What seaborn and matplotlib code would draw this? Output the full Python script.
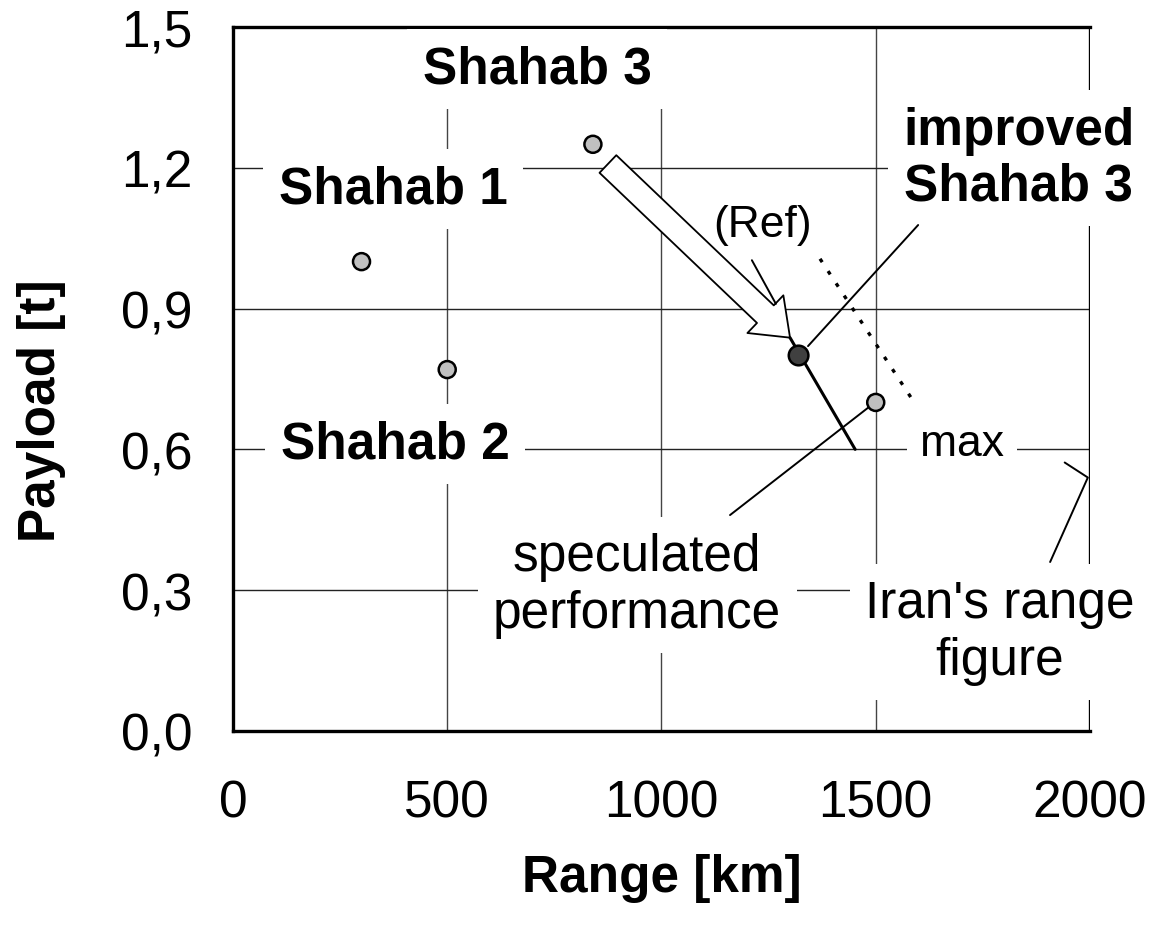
import matplotlib
matplotlib.use("Agg")
import matplotlib.pyplot as plt
import numpy as np
import pandas as pd
import seaborn as sb
from matplotlib.patches import FancyArrowPatch
from matplotlib.ticker import FuncFormatter

# missile data
names = ["Shahab 1", "Shahab 2", "Shahab 3", "improved Shahab 3", "speculated"]
ranges_km = [300, 500, 840, 1320, 1500]
payloads_t = [1.0, 0.77, 1.25, 0.8, 0.7]
marker_kind = ["known", "known", "known", "improved", "known"]

x_ticks = [0, 500, 1000, 1500, 2000]
y_ticks = [0.0, 0.3, 0.6, 0.9, 1.2, 1.5]

sb.set_style("white")
plt.rcParams["font.family"] = ["Liberation Sans", "DejaVu Sans"]
plt.rcParams["text.color"] = "black"
plt.rcParams["axes.labelcolor"] = "black"
plt.rcParams["xtick.color"] = "black"
plt.rcParams["ytick.color"] = "black"

fig = plt.figure(figsize=(11.55, 9.29), dpi=100)
ax = fig.add_axes([0.2017, 0.2121, 0.742, 0.7578])

df = pd.DataFrame({"Range": ranges_km, "Payload": payloads_t, "kind": marker_kind})

# grid lines
for xv in x_ticks[1:-1]:
    ax.axvline(xv, color="#444444", lw=1.0, zorder=1)
for yv in y_ticks[1:-1]:
    ax.axhline(yv, color="#222222", lw=1.0, zorder=1)

# thick right border (Iran's range figure, drawn under the text boxes)
ax.axvline(2000, color="black", lw=2.4, zorder=1.5)

# hollow arrow from Shahab 3 to improved Shahab 3
arrow = FancyArrowPatch((875, 1.208), (1300, 0.838),
                        arrowstyle="simple,head_length=2.45,head_width=3.75,tail_width=1.75",
                        mutation_scale=10, fc="white", ec="black", lw=1.3,
                        shrinkA=0, shrinkB=0, zorder=4)
ax.add_patch(arrow)

# line through the improved point down to 0.6
ax.plot([1300, 1452], [0.838, 0.6], color="black", lw=2.2, zorder=4)
# dotted max line
ax.plot([1370, 1592], [1.006, 0.697], color="black", lw=2.4, ls=(0, (1.2, 3.2)), zorder=4)

# leader lines
lw_lead = 1.4
ax.plot([1211, 1267], [1.003, 0.910], color="black", lw=lw_lead, zorder=4)
ax.plot([1342, 1599], [0.820, 1.078], color="black", lw=lw_lead, zorder=4)
ax.plot([1160, 1491], [0.460, 0.695], color="black", lw=lw_lead, zorder=4)
ax.plot([1907, 1995, 1941], [0.360, 0.540, 0.572], color="black", lw=lw_lead, zorder=4)

# points
sb.scatterplot(data=df, x="Range", y="Payload", hue="kind",
               palette={"known": "#c0c0c0", "improved": "#404040"},
               size="kind", sizes={"known": 150, "improved": 200},
               edgecolor="black", linewidth=1.8, legend=False, zorder=5, ax=ax)

box = dict(facecolor="white", edgecolor="none", boxstyle="square,pad=0.3")
bold = dict(fontsize=37, fontweight="bold", ha="center", va="center", bbox=box, zorder=3)
norm = dict(fontsize=37, ha="center", va="center", bbox=box, zorder=3, linespacing=1.2)

ax.text(710, 1.41, "Shahab 3", **bold)
ax.text(374, 1.155, "Shahab 1", **bold)
ax.text(378, 0.612, "Shahab 2", **bold)
ax.text(1834, 1.221, "improved\nShahab 3", linespacing=1.17, **bold)
ax.text(1237, 1.08, "(Ref)", fontsize=32, ha="center", va="center", zorder=3)
ax.text(1701, 0.612, "max", fontsize=32, ha="center", va="center", bbox=box, zorder=3)
ax.text(943, 0.311, "speculated\nperformance", **norm)
ax.text(1790, 0.211, "Iran's range\nfigure", **norm)

ax.set_xlim(0, 2000)
ax.set_ylim(0, 1.5)
ax.set_xticks(x_ticks)
ax.set_yticks(y_ticks)
ax.yaxis.set_major_formatter(FuncFormatter(lambda v, p: f"{v:.1f}".replace(".", ",")))
ax.tick_params(axis="x", length=0, pad=34, labelsize=37)
ax.tick_params(axis="y", length=0, pad=29, labelsize=37)

ax.set_xlabel("Range [km]", fontsize=37, fontweight="bold")
ax.set_ylabel("Payload [t]", fontsize=37, fontweight="bold")
ax.xaxis.set_label_coords(0.5, -0.208)
ax.xaxis.label.set_va("center")
ax.yaxis.set_label_coords(-0.223, 0.457)
ax.yaxis.label.set_va("center")

for side in ["left", "bottom", "top"]:
    ax.spines[side].set_color("black")
    ax.spines[side].set_linewidth(2.4)
ax.spines["right"].set_visible(False)

fig.savefig("out.png", dpi=100)
